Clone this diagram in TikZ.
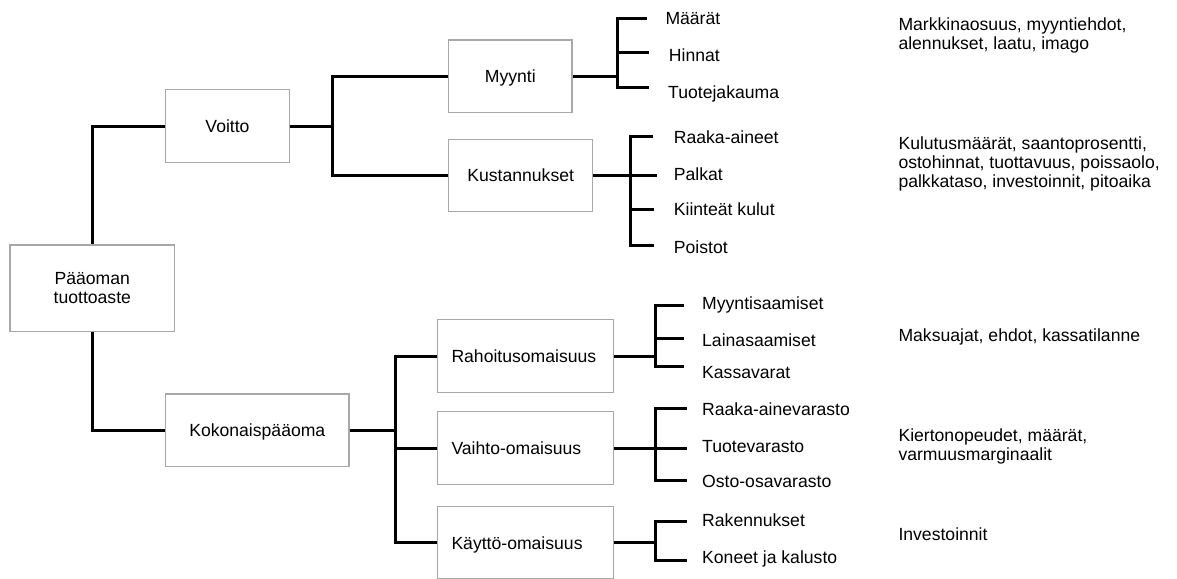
\documentclass[tikz,border=0pt]{standalone}
\usepackage{fontspec}
\setmainfont{Liberation Sans}
\definecolor{boxgray}{RGB}{168,168,168}
\begin{document}
\begin{tikzpicture}[x=1pt,y=-1pt,
  every node/.style={font=\fontsize{17.6}{19}\selectfont},
  box/.style={draw=boxgray,line width=1.3pt,inner sep=0pt,align=center},
  widebox/.style={draw=boxgray,line width=1.3pt,inner xsep=14pt,inner ysep=0pt,
    minimum width=176pt,minimum height=72.5pt,text width=148pt,align=left},
  oneline/.style={text height=12.6pt,text depth=0pt},
  conn/.style={line width=3pt,line join=miter},
  leaf/.style={anchor=west,inner sep=0pt,text height=12.6pt,text depth=0pt},
  note/.style={anchor=north west,inner sep=0pt,align=left}]

\path[use as bounding box,fill=white] (0,0) rectangle (1177,578);

% main boxes
\node[box,minimum width=164.7pt,minimum height=86.3pt] (paa) at (92.3,288.2) {Pääoman\\tuottoaste};
\node[box,oneline,minimum width=123.6pt,minimum height=72.6pt] (voitto) at (227.5,126) {Voitto};
\node[box,oneline,minimum width=123.3pt,minimum height=72.3pt] (myynti) at (510.3,76.2) {Myynti};
\node[box,oneline,minimum width=144pt,minimum height=72.4pt] (kust) at (520.7,175.5) {Kustannukset};
\node[box,oneline,minimum width=183.3pt,minimum height=72.3pt] (koko) at (257.3,430.2) {Kokonaispääoma};
\node[widebox,oneline] (raho) at (525.5,356) {Rahoitusomaisuus};
\node[widebox,oneline] (vaihto) at (525.5,448) {Vaihto-omaisuus};
\node[widebox,oneline] (kaytto) at (525.5,542.8) {Käyttö-omaisuus};

% branching points
\coordinate (f1) at (332.3,126);
\coordinate (f2) at (617.3,76.2);
\coordinate (f3) at (630.3,175.5);
\coordinate (f4) at (395,430.2);
\coordinate (f5) at (655,356);
\coordinate (f6) at (655,448);
\coordinate (f7) at (655,542.8);

% free ends of the leaf ticks
\coordinate (t21) at (647,18.3);
\coordinate (t22) at (648.7,52.7);
\coordinate (t23) at (648.7,87.7);
\coordinate (t31) at (652.7,136.7);
\coordinate (t32) at (657,175.5);
\coordinate (t33) at (653.7,209);
\coordinate (t34) at (654.3,245.7);
\coordinate (t51) at (683.5,305);
\coordinate (t52) at (683.5,338);
\coordinate (t53) at (683.5,366.7);
\coordinate (t61) at (687,408.5);
\coordinate (t62) at (687,448);
\coordinate (t63) at (687,480);
\coordinate (t71) at (687,521.5);
\coordinate (t72) at (687,560);

% tree connectors
\draw[conn] (paa.north) |- (voitto.west);
\draw[conn] (paa.south) |- (koko.west);
\draw[conn] (voitto.east) -- (f1);
\draw[conn] (myynti.west) -| (f1);
\draw[conn] (kust.west) -| (f1);
\draw[conn] (koko.east) -- (f4);
\draw[conn] (raho.west) -| (f4);
\draw[conn] (vaihto.west) -| (f4);
\draw[conn] (kaytto.west) -| (f4);

\draw[conn] (myynti.east) -- (f2);
\draw[conn] (f2) |- (t21);
\draw[conn] (f2) |- (t22);
\draw[conn] (f2) |- (t23);

\draw[conn] (kust.east) -- (f3);
\draw[conn] (f3) |- (t31);
\draw[conn] (f3) |- (t32);
\draw[conn] (f3) |- (t33);
\draw[conn] (f3) |- (t34);

\draw[conn] (raho.east) -- (f5);
\draw[conn] (f5) |- (t51);
\draw[conn] (f5) |- (t52);
\draw[conn] (f5) |- (t53);

\draw[conn] (vaihto.east) -- (f6);
\draw[conn] (f6) |- (t61);
\draw[conn] (f6) |- (t62);
\draw[conn] (f6) |- (t63);

\draw[conn] (kaytto.east) -- (f7);
\draw[conn] (f7) |- (t71);
\draw[conn] (f7) |- (t72);

% leaf labels
\node[leaf] (l21) at (665.3,18.3) {Määrät};
\node[leaf] (l22) at (668.7,55) {Hinnat};
\node[leaf] (l23) at (668,92.3) {Tuotejakauma};
\node[leaf] (l31) at (673.7,137) {Raaka-aineet};
\node[leaf] (l32) at (673.7,174.5) {Palkat};
\node[leaf] (l33) at (673.7,209.3) {Kiinteät kulut};
\node[leaf] (l34) at (673.7,246.7) {Poistot};
\node[leaf] (l51) at (702,303.5) {Myyntisaamiset};
\node[leaf] (l52) at (702,340) {Lainasaamiset};
\node[leaf] (l53) at (702,372.5) {Kassavarat};
\node[leaf] (l61) at (702,409) {Raaka-ainevarasto};
\node[leaf] (l62) at (702,446) {Tuotevarasto};
\node[leaf] (l63) at (702,481) {Osto-osavarasto};
\node[leaf] (l71) at (702,520.5) {Rakennukset};
\node[leaf] (l72) at (702,557.5) {Koneet ja kalusto};

% notes on the right
\node[note] (n1) at (898.3,17.3) {\strut Markkinaosuus, myyntiehdot,\\alennukset, laatu, imago};
\node[note] (n2) at (898.3,135.7) {\strut Kulutusmäärät, saantoprosentti,\\ostohinnat, tuottavuus, poissaolo,\\palkkataso, investoinnit, pitoaika};
\node[note] (n3) at (898.3,327.7) {\strut Maksuajat, ehdot, kassatilanne};
\node[note] (n4) at (898.3,427.7) {\strut Kiertonopeudet, määrät,\\varmuusmarginaalit};
\node[note] (n5) at (898.3,526.7) {\strut Investoinnit};
\end{tikzpicture}
\end{document}
